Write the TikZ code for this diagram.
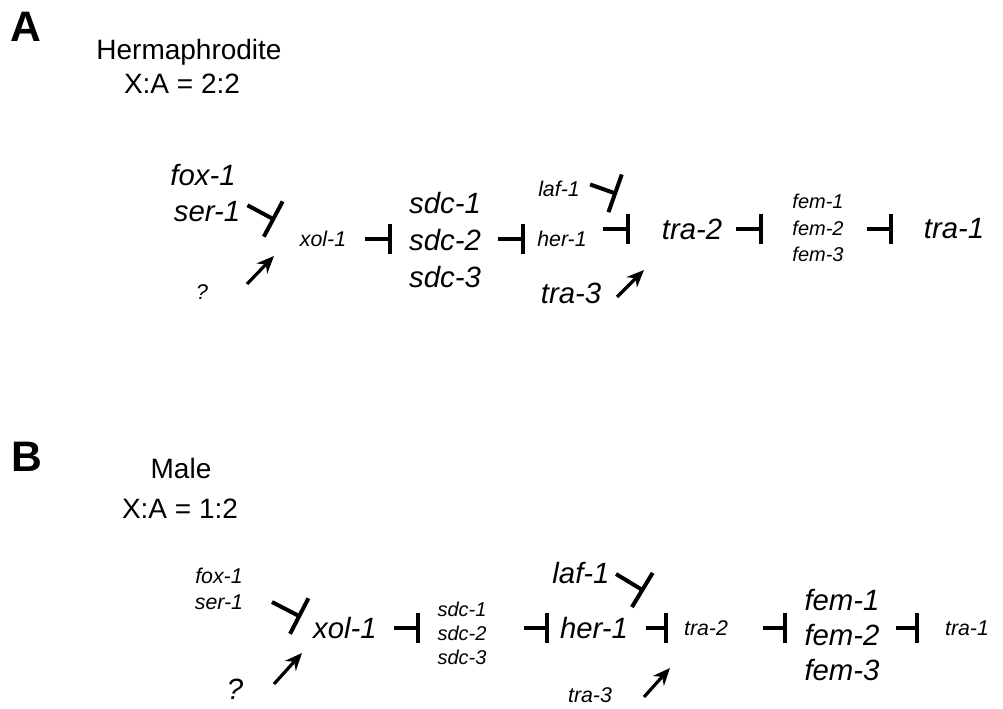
\documentclass[tikz,border=0pt]{standalone}
\usepackage{fontspec}
\setmainfont{Liberation Sans}
\usetikzlibrary{arrows.meta,positioning}

\begin{document}
\begin{tikzpicture}[
      x=0.75pt, y=-0.75pt,
      gene/.style={inner sep=0pt, font=\fontsize{16}{19}\selectfont\itshape},
      biggene/.style={inner sep=0pt, font=\fontsize{22}{26}\selectfont\itshape},
      title/.style={inner sep=0pt, font=\fontsize{21}{24}\selectfont},
      panel/.style={inner sep=0pt, font=\fontsize{32}{36}\selectfont\bfseries},
      inh/.style={-{Bar[width=22pt]}, line width=3pt},
      ybar/.style={-{Bar[width=30pt]}, line width=3pt},
      act/.style={-{Stealth[length=13pt,width=11pt]}, line width=2.4pt}
    ]
      \path[use as bounding box] (0,0) rectangle (1003,709);

      % A: hermaphrodite
      \node[panel] (labA) at (26,27) {A};
      \node[title] (hermA) at (189,52) {Hermaphrodite};
      \node[title] (ratioA) at (182,84) {X:A = 2:2};
      \node[biggene] (foxA) at (203,175) {fox-1};
      \node[biggene] (serA) at (207,212) {ser-1};
      \node[gene] (qA) at (202,292) {?};
      \node[gene] (xolA) at (323,239) {xol-1};
      \node[biggene, align=center, font=\fontsize{22}{27.4}\selectfont\itshape] (sdcA) at (445,240) {sdc-1\\sdc-2\\sdc-3};
      \node[gene] (lafA) at (559,189) {laf-1};
      \node[gene] (herA) at (562,239) {her-1};
      \node[biggene] (traThreeA) at (571,293) {tra-3};
      \node[biggene] (traTwoA) at (692,229) {tra-2};
      \node[gene, align=center, font=\fontsize{15}{20}\selectfont\itshape] (femA) at (818,228) {fem-1\\fem-2\\fem-3};
      \node[biggene] (traOneA) at (954,229) {tra-1};

      \coordinate (serEndA) at (275,220);
      \coordinate (qTailA) at (247,284);
      \coordinate (qHeadA) at (274,256);
      \coordinate (lafEndA) at (617,194);
      \coordinate (traThreeTailA) at (617,297);
      \coordinate (traThreeHeadA) at (644,270);

      \draw[ybar, shorten <=6pt] (serA.north east) -- (serEndA);
      \draw[act] (qTailA) -- (qHeadA);
      \draw[inh, shorten <=14pt, shorten >=13pt] (xolA.east) -- (xolA.east -| sdcA.west);
      \draw[inh, shorten <=13pt, shorten >=9pt] (sdcA.east |- herA) -- (herA.west);
      \draw[ybar, shorten <=8pt] (lafA.north east) -- (lafEndA);
      \draw[act] (traThreeTailA) -- (traThreeHeadA);
      \draw[inh, shorten <=12pt, shorten >=24pt] (herA.east |- traTwoA) -- (traTwoA.west);
      \draw[inh, shorten <=10pt, shorten >=22pt] (traTwoA.east) -- (traTwoA.east -| femA.west);
      \draw[inh, shorten <=17pt, shorten >=23pt] (femA.east |- traOneA) -- (traOneA.west);

      % B: male
      \node[panel] (labB) at (27,457) {B};
      \node[title] (maleB) at (181,468) {Male};
      \node[title] (ratioB) at (180,509) {X:A = 1:2};
      \node[gene] (foxB) at (219,576) {fox-1};
      \node[gene] (serB) at (219,602) {ser-1};
      \node[biggene] (qB) at (235,689) {?};
      \node[biggene] (xolB) at (345,628) {xol-1};
      \node[gene, align=center, font=\fontsize{15}{18}\selectfont\itshape] (sdcB) at (462,633) {sdc-1\\sdc-2\\sdc-3};
      \node[biggene] (lafB) at (581,573) {laf-1};
      \node[biggene] (herB) at (594,628) {her-1};
      \node[gene] (traThreeB) at (590,695) {tra-3};
      \node[gene] (traTwoB) at (706,628) {tra-2};
      \node[biggene, align=center, font=\fontsize{22}{26}\selectfont\itshape] (femB) at (842,635) {fem-1\\fem-2\\fem-3};
      \node[gene] (traOneB) at (967,628) {tra-1};

      \coordinate (serStartB) at (272,602);
      \coordinate (serEndB) at (301,617);
      \coordinate (qTailB) at (274,684);
      \coordinate (qHeadB) at (302,653);
      \coordinate (lafStartB) at (616,574);
      \coordinate (lafEndB) at (644,591);
      \coordinate (traThreeTailB) at (644,697);
      \coordinate (traThreeHeadB) at (670,668);

      \draw[ybar] (serStartB) -- (serEndB);
      \draw[act] (qTailB) -- (qHeadB);
      \draw[inh, shorten <=13pt, shorten >=13pt] (xolB.east) -- (xolB.east -| sdcB.west);
      \draw[inh, shorten <=28pt, shorten >=8pt] (sdcB.east |- herB) -- (herB.west);
      \draw[ybar] (lafStartB) -- (lafEndB);
      \draw[act] (traThreeTailB) -- (traThreeHeadB);
      \draw[inh, shorten <=13pt, shorten >=12pt] (herB.east) -- (traTwoB.west);
      \draw[inh, shorten <=26pt, shorten >=13pt] (traTwoB.east) -- (traTwoB.east -| femB.west);
      \draw[inh, shorten <=12pt, shorten >=19pt] (femB.east |- traOneB) -- (traOneB.west);
    \end{tikzpicture}
\end{document}
